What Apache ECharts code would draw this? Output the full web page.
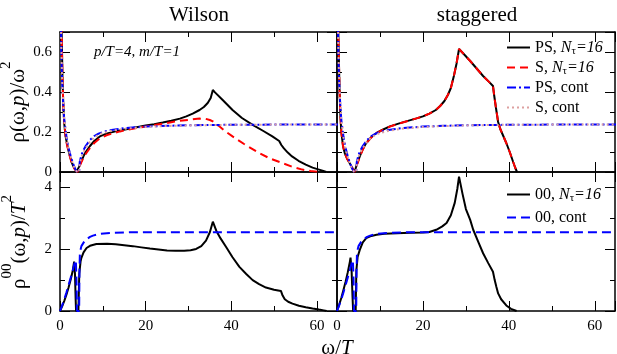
<!DOCTYPE html>
<html>
<head>
<meta charset="utf-8">
<script src="https://cdn.jsdelivr.net/npm/echarts@6/dist/echarts.min.js"></script>
<style>html,body{margin:0;padding:0;background:#fff}#main{width:617px;height:354px}</style>
</head>
<body>
<div id="main"></div>
<script>
'use strict';
// [omega/T, rho/omega^2]
var wilsonPS = [[0.3,0.8],[0.45,0.62],[0.6,0.45],[0.8,0.32],[1.0,0.24],[1.3,0.18],[1.6,0.145],[2.0,0.105],[2.4,0.075],[2.7,0.05],[3.1,0.03],[3.5,0.014],[3.9,0.003],[4.1,0],[4.5,0.028],[5.0,0.055],[5.5,0.08],[6.0,0.1],[7.0,0.13],[8.0,0.155],[9.3,0.178],[11,0.193],[14,0.208],[17,0.22],[20,0.232],[22,0.239],[24,0.247],[26,0.256],[28,0.267],[29.5,0.278],[31,0.292],[32.6,0.31],[33.6,0.325],[34.5,0.345],[35.2,0.37],[35.7,0.41],[36.2,0.398],[38,0.36],[40.3,0.31],[42.5,0.27],[45,0.236],[47.5,0.205],[49.6,0.178],[51.2,0.155],[51.7,0.135],[52.3,0.118],[53.2,0.097],[54.2,0.078],[55.7,0.056],[57.4,0.037],[59,0.022],[60.5,0.012],[61.5,0.005],[62.2,0]];
var wilsonS = [[0.3,0.8],[0.45,0.62],[0.6,0.45],[0.8,0.32],[1.0,0.24],[1.3,0.18],[1.6,0.14],[2.0,0.1],[2.4,0.07],[2.7,0.048],[3.1,0.028],[3.5,0.012],[3.9,0.002],[4.1,0],[4.5,0.025],[5.0,0.05],[5.5,0.072],[6.0,0.09],[7.0,0.12],[8.0,0.145],[9.3,0.168],[11,0.185],[14,0.203],[17,0.216],[20,0.228],[22,0.235],[24,0.242],[26,0.249],[28,0.256],[30.5,0.262],[32.6,0.267],[34,0.266],[35,0.26],[35.7,0.253],[37,0.232],[38.5,0.205],[40.3,0.178],[43,0.14],[46.5,0.095],[49,0.068],[51.9,0.045],[54,0.028],[56.6,0.012],[58.5,0.005],[60.5,0.001],[61,0]];
var staggeredPS = [[0.2,0.8],[0.4,0.6],[0.6,0.4],[0.8,0.28],[1.0,0.2],[1.4,0.13],[1.8,0.095],[2.4,0.065],[3.0,0.042],[3.5,0.022],[4.1,0],[4.5,0.03],[5.3,0.078],[6.0,0.115],[6.8,0.145],[8.0,0.175],[9.2,0.195],[10.5,0.21],[12.3,0.228],[14.5,0.243],[16.9,0.258],[18.5,0.268],[20,0.278],[21.5,0.292],[23,0.31],[24,0.33],[25,0.355],[25.8,0.385],[26.5,0.42],[27.2,0.48],[27.8,0.54],[28.4,0.615],[29.5,0.59],[31,0.555],[32.4,0.52],[34,0.48],[35.5,0.448],[36.3,0.43],[36.6,0.38],[37,0.32],[37.5,0.25],[38,0.215],[38.7,0.18],[39.4,0.145],[40.2,0.1],[41,0.05],[41.5,0.02],[41.9,0]];
var staggeredS = [[0.2,0.8],[0.4,0.6],[0.6,0.4],[0.8,0.28],[1.0,0.2],[1.4,0.13],[1.8,0.095],[2.4,0.065],[3.0,0.042],[3.5,0.022],[4.1,0],[4.5,0.028],[5.3,0.075],[6.0,0.112],[6.8,0.143],[8.0,0.173],[9.2,0.194],[10.5,0.209],[12.3,0.227],[14.5,0.243],[16.9,0.258],[18.5,0.268],[20,0.278],[21.5,0.292],[23,0.31],[24,0.33],[25,0.355],[25.8,0.385],[26.5,0.42],[27.2,0.48],[27.8,0.54],[28.4,0.615],[29.5,0.59],[31,0.555],[32.4,0.52],[34,0.48],[35.5,0.448],[36.3,0.43],[36.6,0.38],[37,0.32],[37.5,0.25],[38,0.215],[38.7,0.18],[39.4,0.145],[40.2,0.1],[41,0.05],[41.5,0.02],[41.9,0]];
var contPS = [[0.2,0.8],[0.3,0.62],[0.5,0.45],[0.8,0.32],[1.0,0.26],[1.5,0.18],[2.0,0.12],[2.5,0.08],[3.0,0.045],[3.5,0.018],[4.0,0],[4.47,0],[4.6,0.05],[5.0,0.085],[5.5,0.11],[6.0,0.13],[7.0,0.16],[8.0,0.18],[9.0,0.192],[10,0.2],[12,0.21],[15,0.219],[20,0.227],[25,0.231],[30,0.234],[40,0.236],[50,0.237],[65,0.238]];
var contS = [[0.2,0.8],[0.3,0.63],[0.5,0.46],[0.8,0.33],[1.0,0.26],[1.5,0.175],[2.0,0.115],[2.5,0.075],[3.0,0.042],[3.5,0.016],[4.0,0],[4.47,0],[4.6,0.04],[5.0,0.075],[5.5,0.1],[6.0,0.12],[7.0,0.152],[8.0,0.173],[9.0,0.186],[10,0.195],[12,0.206],[15,0.216],[20,0.225],[25,0.23],[30,0.233],[40,0.236],[50,0.237],[65,0.238]];
// [omega/T, rho00/T^2]
var wilson00 = [[0,0],[0.5,0.15],[1,0.33],[1.5,0.53],[2,0.76],[2.5,1.02],[3,1.32],[3.3,1.6],[3.5,1.2],[3.65,0.4],[3.75,0],[4.3,0],[4.5,1.2],[4.8,1.6],[5,1.72],[5.5,1.9],[6.2,2.04],[7,2.11],[8.5,2.17],[11,2.18],[13,2.16],[15,2.13],[17,2.1],[19,2.06],[21,2.02],[23,1.99],[25,1.96],[27,1.95],[29,1.95],[30.5,1.97],[31.8,2.01],[33,2.1],[34.1,2.28],[35,2.55],[35.7,2.89],[36.5,2.6],[37.5,2.35],[38.8,2.07],[40.3,1.74],[41.9,1.43],[43.5,1.2],[45,1.0],[46.5,0.87],[48.1,0.76],[50,0.69],[51.6,0.65],[52,0.5],[52.5,0.38],[53.3,0.3],[54.3,0.24],[55.8,0.17],[57.4,0.12],[59,0.08],[60.5,0.045],[61.6,0.02],[62.3,0]];
var staggered00 = [[0,0],[0.5,0.2],[1,0.42],[1.5,0.68],[2,0.95],[2.5,1.25],[3,1.6],[3.15,1.73],[3.4,1.3],[3.6,0.5],[3.75,0],[4.35,0],[4.5,1.3],[4.8,1.75],[5.3,1.98],[6,2.22],[6.8,2.36],[8,2.43],[9.2,2.47],[11,2.5],[14,2.52],[17,2.53],[20,2.54],[21.5,2.56],[23.1,2.63],[24.5,2.74],[25.5,2.85],[26.5,3.1],[27.4,3.5],[28,3.95],[28.4,4.35],[29.2,3.8],[30,3.3],[31,2.95],[31.7,2.63],[33,2.2],[34,1.87],[35.2,1.55],[36.3,1.27],[36.7,1.0],[37.1,0.78],[37.5,0.57],[38.2,0.38],[39.4,0.18],[40.5,0.07],[41.8,0]];
var cont00 = [[0,0],[0.5,0.18],[1,0.38],[1.5,0.6],[2,0.84],[2.5,1.08],[3,1.33],[3.4,1.55],[3.7,1.65],[3.85,1.0],[3.95,0],[4.47,0],[4.55,1.3],[4.65,1.9],[5,2.1],[5.8,2.28],[7,2.4],[7.7,2.44],[9.3,2.5],[12,2.53],[15,2.545],[20,2.55],[65,2.55]];

var xTicks = {max: 64.7, major: 20, minor: 10};
var yTopTicks = {max: 0.7, major: 0.2, minor: 0.1};
var yBotTicks = {max: 4.5, major: 2, minor: 1};

var FONT = 'Liberation Serif';
var myChart = echarts.init(document.getElementById('main'));

var grids = [
    {left: 60, top: 32, width: 277, height: 140},
    {left: 337, top: 32, width: 278, height: 140},
    {left: 60, top: 172, width: 277, height: 139},
    {left: 337, top: 172, width: 278, height: 139}
];

function onStep(v, step){
    var r = v / step;
    return Math.abs(r - Math.round(r)) < 1e-6;
}

// two axes per side of a panel: a major one (line, long ticks, labels) and a minor one (short ticks)
function makeAxes(g, pos, ticks, showLabel){
    var list = [];
    [true, false].forEach(function(major){
        list.push({
            type: 'value', gridIndex: g, position: pos,
            min: 0, max: ticks.max,
            interval: major ? ticks.major : ticks.minor,
            splitLine: {show: false},
            axisLine: {show: major, onZero: false, lineStyle: {color: '#000', width: 1.5}},
            axisTick: {show: true, inside: true, length: major ? 10 : 5, lineStyle: {color: '#000', width: 1}},
            axisLabel: {
                show: major && showLabel, margin: 8, color: '#000',
                fontFamily: FONT, fontSize: 15,
                formatter: function(v){ return onStep(v, ticks.major) ? String(+v.toFixed(2)) : ''; }
            }
        });
    });
    return list;
}

var xAxis = [], yAxis = [];
var axisIdx = [];
grids.forEach(function(gr, g){
    var bottom = g >= 2, left = (g % 2 === 0);
    var yt = bottom ? yBotTicks : yTopTicks;
    axisIdx.push({x: xAxis.length, y: yAxis.length});
    xAxis = xAxis.concat(makeAxes(g, 'bottom', xTicks, bottom), makeAxes(g, 'top', xTicks, false));
    yAxis = yAxis.concat(makeAxes(g, 'left', yt, left), makeAxes(g, 'right', yt, false));
});

function line(name, g, data, color, type, width){
    return {
        name: name, type: 'line', xAxisIndex: axisIdx[g].x, yAxisIndex: axisIdx[g].y,
        data: data, symbol: 'none', silent: true, animation: false, clip: true,
        lineStyle: {color: color, width: width || 2, type: type || 'solid'},
        itemStyle: {color: color}
    };
}

var PINK = '#dda0a0';
var series = [
    line('PS, Nτ=16', 0, wilsonPS, '#000'),
    line('S, Nτ=16', 0, wilsonS, '#ff0000', [8, 5]),
    line('PS, cont', 0, contPS, '#0000ff', [9, 3, 2, 3]),
    line('S, cont', 0, contS, PINK, [2, 3]),
    line('PS, Nτ=16', 1, staggeredPS, '#000'),
    line('S, Nτ=16', 1, staggeredS, '#ff0000', [8, 5]),
    line('PS, cont', 1, contPS, '#0000ff', [9, 3, 2, 3]),
    line('S, cont', 1, contS, PINK, [2, 3]),
    line('00, Nτ=16', 2, wilson00, '#000'),
    line('00, cont', 2, cont00, '#0000ff', [9, 5]),
    line('00, Nτ=16', 3, staggered00, '#000'),
    line('00, cont', 3, cont00, '#0000ff', [9, 5])
];

function legendText(name){
    return name.replace('Nτ=16', '{i|N}{s|τ}{i|=16}');
}
var legendStyle = {
    color: '#000', fontFamily: FONT, fontSize: 16, lineHeight: 19,
    rich: {
        i: {fontFamily: FONT, fontSize: 16, fontStyle: 'italic', lineHeight: 19, color: '#000'},
        s: {fontFamily: FONT, fontSize: 11, lineHeight: 11, verticalAlign: 'bottom', color: '#000'}
    }
};
// no marker dot in the legend, only the line
var legendItem = {color: 'rgba(0,0,0,0)', borderWidth: 0, opacity: 0};

function textEl(x, y, text, size, rot, italic){
    return {
        type: 'text', x: x, y: y, rotation: rot || 0, silent: true,
        style: {
            text: text, fill: '#000', fontFamily: FONT, fontSize: size,
            fontStyle: italic ? 'italic' : 'normal',
            align: 'center', verticalAlign: 'middle',
            rich: {
                m: {fontFamily: FONT, fontSize: size, lineHeight: 30, verticalAlign: 'bottom', fill: '#000'},
                mi: {fontFamily: FONT, fontSize: size, fontStyle: 'italic', lineHeight: 30, verticalAlign: 'bottom', fill: '#000'},
                sup: {fontFamily: FONT, fontSize: 15, lineHeight: 15, verticalAlign: 'top', fill: '#000'}
            }
        }
    };
}

var option = {
    backgroundColor: '#fff',
    animation: false,
    textStyle: {fontFamily: FONT},
    grid: grids.map(function(gr){ return Object.assign({outerBoundsMode: 'none', containLabel: false}, gr); }),
    xAxis: xAxis,
    yAxis: yAxis,
    legend: [
        {
            data: ['PS, Nτ=16', 'S, Nτ=16', 'PS, cont', 'S, cont'],
            orient: 'vertical', left: 506, top: 38, padding: 0, itemGap: 1,
            itemWidth: 23, itemHeight: 2, selectedMode: false,
            itemStyle: legendItem,
            formatter: legendText, textStyle: legendStyle
        },
        {
            data: ['00, Nτ=16', '00, cont'],
            orient: 'vertical', left: 506, top: 185, padding: 0, itemGap: 4,
            itemWidth: 23, itemHeight: 2, selectedMode: false,
            itemStyle: legendItem,
            formatter: legendText, textStyle: legendStyle
        }
    ],
    graphic: [
        textEl(199, 15, 'Wilson', 21),
        textEl(477, 15, 'staggered', 21),
        textEl(137, 52, 'p/T=4, m/T=1', 15, 0, true),
        textEl(14, 102, '{m|ρ(ω,}{mi|p}{m|)/ω}{sup|2}', 21, Math.PI / 2),
        textEl(15, 242, '{m|ρ}{sup|00}{m|(ω,}{mi|p}{m|)/}{mi|T}{sup|2}', 21, Math.PI / 2),
        textEl(337, 344, '{m|ω/}{mi|T}', 21)
    ],
    series: series
};
myChart.setOption(option);
</script>
</body>
</html>
